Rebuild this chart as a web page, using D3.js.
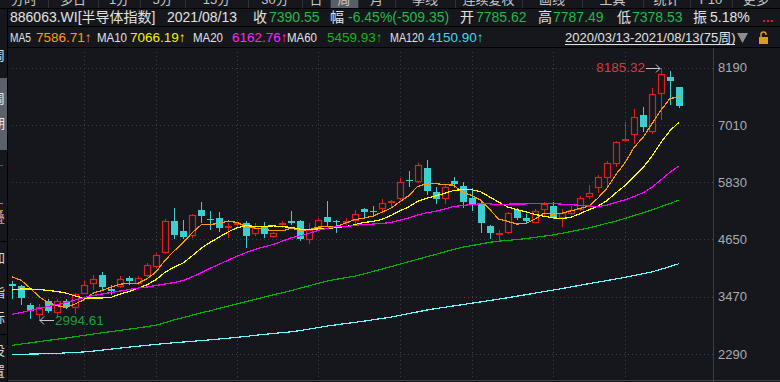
<!DOCTYPE html>
<html><head><meta charset="utf-8">
<script src="https://cdn.jsdelivr.net/npm/d3@7"></script>
<style>
html,body{margin:0;padding:0;background:#15171c;overflow:hidden;}
svg{display:block;}
text{font-family:"Liberation Sans","Noto Sans CJK SC",sans-serif;}
</style></head><body>
<svg id="c" width="780" height="382"></svg>
<script>
// ---- data (weekly, 2020/03/13 - 2021/08/13, 75 weeks) ----
const open  = [3733,3692,3300,3114,3382,3156,3382,3259,3547,3753,3918,3629,3691,3856,3753,3918,4103,4392,5031,4825,4743,5258,5072,5093,4907,4969,4990,4784,4928,4722,4949,5031,5031,4660,4887,5114,5031,4990,5052,5278,5237,5299,5423,5505,5876,5855,6123,5629,5505,5855,5752,5505,5402,4928,4763,4805,5258,5093,5010,5278,5340,5114,5196,5278,5546,5732,5938,6226,6680,6824,7216,6886,7669,8000,7785.62];
const high  = [3794,3712,3341,3320,3424,3424,3424,3547,3794,3918,3980,3712,3897,3897,3897,4165,4372,5072,5299,5052,5175,5423,5237,5217,4990,5010,5031,4990,5010,4805,5031,5237,5052,4990,5093,5443,5052,5093,5258,5299,5340,5485,5464,5917,6061,6226,6288,5732,5773,5938,5835,5711,5423,4949,4846,5217,5299,5175,5278,5423,5423,5278,5340,5546,5773,5979,6268,6680,7071,7339,7380,7772,8185.32,8123,7787.49];
const low   = [3444,3320,3032,2994.61,3156,3053,3238,3135,3547,3629,3629,3527,3671,3733,3733,3897,4090,4372,4681,4681,4701,5010,4866,4825,4701,4928,4495,4743,4701,4701,4907,4969,4640,4578,4866,4949,4804,4969,4969,5114,5134,5217,5320,5485,5752,5835,5588,5402,5402,5732,5320,5258,4805,4681,4640,4784,5072,5010,5010,5155,5093,4928,5175,5258,5505,5629,5752,6164,6670,6639,6886,6845,7134,7442,7378.53];
const close = [3692,3444,3176,3259,3176,3382,3259,3527,3712,3836,3671,3588,3836,3794,3856,4124,4330,5031,4743,4701,5155,5134,5052,4887,4928,4990,4722,4887,4763,4784,4990,4990,4660,4846,5052,5010,5010,5031,5175,5217,5217,5402,5443,5835,5855,6185,5649,5485,5732,5794,5423,5361,4990,4784,4784,5196,5093,5031,5237,5381,5114,5196,5258,5505,5608,5938,6226,6659,6721,7174,6968,7649,8061,7917,7390.55];
const ma5   = [3880,3810,3650,3470,3349,3287,3250,3321,3411,3543,3601,3667,3729,3745,3749,3840,3988,4227,4417,4586,4792,4953,4957,4986,5031,4998,4916,4883,4858,4829,4829,4883,4837,4854,4908,4912,4916,4990,5056,5089,5130,5208,5291,5423,5550,5744,5793,5802,5781,5769,5617,5559,5460,5270,5068,5023,4969,4978,5068,5188,5171,5192,5237,5291,5336,5501,5707,5987,6230,6544,6750,7034,7315,7554,7586.71];
const ma10  = [3609,3630,3630,3619,3599,3578,3547,3485,3444,3446,3444,3459,3525,3578,3646,3720,3827,3978,4081,4167,4316,4470,4592,4701,4809,4895,4934,4920,4922,4930,4914,4899,4860,4856,4868,4870,4899,4914,4955,4998,5021,5062,5140,5239,5320,5437,5501,5546,5602,5660,5680,5676,5631,5526,5419,5320,5264,5219,5169,5128,5097,5081,5107,5180,5262,5336,5449,5612,5761,5940,6125,6371,6651,6892,7066.19];
const ma20  = [3108,3145,3187,3228,3269,3310,3351,3403,3454,3496,3527,3558,3588,3619,3650,3671,3702,3733,3764,3807,3880,3965,4058,4140,4227,4308,4381,4449,4501,4549,4615,4685,4726,4779,4838,4883,4917,4917,4938,4964,4967,4981,5000,5048,5094,5154,5200,5230,5278,5329,5351,5369,5386,5383,5369,5378,5383,5383,5386,5394,5389,5378,5369,5353,5340,5328,5357,5416,5465,5534,5611,5726,5879,6036,6162.76];
const ma60  = [2469,2494,2519,2546,2570,2595,2620,2647,2675,2700,2727,2752,2778,2803,2828,2857,2886,2937,2995,3042,3090,3137,3182,3230,3277,3325,3370,3417,3465,3510,3553,3599,3648,3698,3747,3795,3830,3863,3895,3937,3988,4038,4089,4141,4190,4242,4293,4343,4394,4444,4491,4524,4557,4592,4615,4631,4648,4668,4693,4718,4743,4778,4815,4852,4889,4936,4984,5029,5083,5142,5200,5260,5326,5392,5459.93];
const ma120 = [2284,2286,2288,2292,2296,2304,2313,2323,2333,2350,2370,2391,2412,2432,2451,2469,2488,2506,2523,2537,2552,2566,2583,2599,2616,2634,2653,2675,2694,2713,2731,2748,2774,2805,2836,2867,2892,2917,2941,2966,2993,3022,3048,3086,3123,3158,3195,3226,3252,3281,3308,3337,3364,3393,3421,3450,3481,3512,3543,3576,3607,3638,3671,3706,3739,3772,3803,3836,3869,3908,3945,3982,4036,4093,4150.90];
const yTicks = [2290,3470,4650,5830,7010,8190];
const gridWeeks = [8,16,25,34,43,51,60,68];
const maNames = ["MA5","MA10","MA20","MA60","MA120"];
const maColors = ["#ff9a10","#ffff00","#ff00ff","#00b400","#66ffff"];
const maLabelColors = ["#ff9a1e","#f2f200","#ff22ff","#12b812","#40d8e8"];
const tabs = ["分时","多日","1分","5分","15分","30分","日","周","月","季线","连续复权","画线","工具","统计","F10","更多"];
const tabEdges = [0,48,98,140,185,248,302,330,358,395,455,522,582,643,690,732,780];

// ---- layout ----
const W=780,H=382, L=8, R=713, T=48, B=380;
const BG="#15171c", RED="#e01e1e", CYAN="#3ccfcf", GRID="#3d4047";
const svg=d3.select("#c");
svg.append("rect").attr("width",W).attr("height",H).attr("fill",BG);

const n=close.length;
const x=d3.scalePoint().domain(d3.range(n)).range([12,679]);
const y=d3.scaleLinear().domain([2290,8190]).range([354,67.7]);

// top tab strip (cut off)
const tg=svg.append("g");
tg.append("rect").attr("x",tabEdges[7]).attr("y",0).attr("width",tabEdges[8]-tabEdges[7]).attr("height",8).attr("fill","#5a5e68");
tabs.forEach((t,i)=>{
  tg.append("text").attr("x",(tabEdges[i]+tabEdges[i+1])/2).attr("y",4).attr("text-anchor","middle")
    .attr("font-size",13).attr("fill","#c8c8c8").text(t);
  if(i>0) tg.append("line").attr("x1",tabEdges[i]+0.5).attr("x2",tabEdges[i]+0.5).attr("y1",0).attr("y2",8).attr("stroke","#2e3036");
});
svg.append("line").attr("x1",0).attr("x2",W).attr("y1",8.5).attr("y2",8.5).attr("stroke","#000");

// left tool strip (cut off)
const lg=svg.append("g");
lg.append("rect").attr("x",0).attr("y",78).attr("width",7).attr("height",72).attr("fill","#5c606a");
[["周",60,"#cfe0ff"],["周",103,"#e6e6e6"],["期",128,"#e6e6e6"],["叠",222,"#d0a0a0"],["加",262,"#d8d8d8"],["指",297,"#d8d8d8"],["标",322,"#d8d8d8"],["设",355,"#d8d8d8"],["置",376,"#d8d8d8"]].forEach(d=>{
  lg.append("text").attr("x",-8).attr("y",d[1]).attr("font-size",13).attr("fill",d[2]).text(d[0]);
});
lg.append("rect").attr("x",0).attr("y",165).attr("width",3).attr("height",1).attr("fill","#c03030");
lg.append("rect").attr("x",0).attr("y",203).attr("width",3).attr("height",1).attr("fill","#d08020");
lg.append("rect").attr("x",0).attr("y",210).attr("width",3).attr("height",1).attr("fill","#d08020");
[241,334].forEach(v=>lg.append("line").attr("x1",0).attr("x2",7).attr("y1",v+0.5).attr("y2",v+0.5).attr("stroke","#000"));
svg.append("line").attr("x1",7.5).attr("x2",7.5).attr("y1",8).attr("y2",H).attr("stroke","#000");

// header row 1
const h1=svg.append("g").attr("font-size",14);
const row1=[["886063.WI[半导体指数]",10,"#e2e2e2"],["2021/08/13",167,"#e2e2e2"],["收",253,"#e2e2e2"],[d3.format(".2f")(close[n-1]),269,"#22b84a"],
  ["幅",330,"#e2e2e2"],["-6.45%(-509.35)",348,"#22b84a"],["开",460,"#e2e2e2"],[d3.format(".2f")(open[n-1]),476,"#22b84a"],
  ["高",538,"#e2e2e2"],[d3.format(".2f")(high[n-1]),553,"#22b84a"],["低",617,"#e2e2e2"],[d3.format(".2f")(low[n-1]),632,"#22b84a"],
  ["振",693,"#e2e2e2"],["5.18%",710,"#e2e2e2"]];
row1.forEach(d=>h1.append("text").attr("x",d[1]).attr("y",22).attr("fill",d[2]).text(d[0]));
[763,767,771].forEach(v=>svg.append("rect").attr("x",v).attr("y",20).attr("width",2).attr("height",2).attr("fill","#e02020"));

// header row 2 (MA legend)
svg.append("line").attr("x1",8).attr("x2",W).attr("y1",26.5).attr("y2",26.5).attr("stroke","#000");
const h2=svg.append("g").attr("font-size",13.5);
const lastMA=[ma5,ma10,ma20,ma60,ma120].map(a=>a[a.length-1]);
const labX=[10,97,193,287,390], labW=[21,30,30,30,34], valX=[36,130,232,327,428];
maNames.forEach((m,i)=>{
  h2.append("text").attr("x",labX[i]).attr("y",42).attr("fill","#e2e2e2").attr("font-size",12)
    .attr("textLength",labW[i]).attr("lengthAdjust","spacingAndGlyphs").text(m);
  h2.append("text").attr("x",valX[i]).attr("y",42).attr("fill",maLabelColors[i]).text(d3.format(".2f")(lastMA[i])+"↑");
});
h2.append("text").attr("x",565).attr("y",42).attr("fill","#e2e2e2").attr("font-size",13).text("2020/03/13-2021/08/13(75周)");
svg.append("line").attr("x1",565).attr("x2",735).attr("y1",44.5).attr("y2",44.5).attr("stroke","#e2e2e2");
svg.append("path").attr("d","M737,33 L748,33 L742.5,43 Z").attr("fill","#8c8f96");
svg.append("rect").attr("x",759).attr("y",37).attr("width",9).attr("height",7).attr("fill","#d99a1e");
svg.append("path").attr("d","M761,37 V34.5 A2.5,2.5 0 0 1 766,34.5 V35").attr("fill","none").attr("stroke","#d99a1e").attr("stroke-width",1.5);
svg.append("line").attr("x1",8).attr("x2",W).attr("y1",47.5).attr("y2",47.5).attr("stroke","#000");

// plot area clip
svg.append("clipPath").attr("id","pc").append("rect").attr("x",L+1).attr("y",T+1).attr("width",R-L-1).attr("height",B-T-1);
const pg=svg.append("g").attr("clip-path","url(#pc)");

// grid
pg.selectAll(".hg").data(yTicks).join("line").attr("x1",L).attr("x2",R)
  .attr("y1",d=>Math.round(y(d))+0.5).attr("y2",d=>Math.round(y(d))+0.5)
  .attr("stroke",GRID).attr("stroke-dasharray","1,3");
pg.selectAll(".vg").data(gridWeeks).join("line").attr("y1",T).attr("y2",B)
  .attr("x1",d=>Math.round(x(d))+0.5).attr("x2",d=>Math.round(x(d))+0.5)
  .attr("stroke",GRID).attr("stroke-dasharray","1,3");

// candles
const cg=pg.append("g");
d3.range(n).forEach(i=>{
  const cx=Math.round(x(i));
  const up=close[i]>=open[i];
  const col=up?RED:CYAN;
  cg.append("line").attr("x1",cx+0.5).attr("x2",cx+0.5).attr("y1",Math.round(y(high[i]))).attr("y2",Math.round(y(low[i]))+1)
    .attr("stroke",col).attr("stroke-width",1);
  const yo=Math.round(y(open[i])), yc=Math.round(y(close[i]));
  if(up){
    const hgt=yo-yc;
    if(hgt<=2){
      cg.append("rect").attr("x",cx-3).attr("y",yc).attr("width",7).attr("height",Math.max(2,hgt)).attr("fill",RED);
    } else {
      cg.append("rect").attr("x",cx-2.5).attr("y",yc+0.5).attr("width",6).attr("height",hgt)
        .attr("fill",BG).attr("stroke",RED).attr("stroke-width",1.2);
    }
  } else {
    cg.append("rect").attr("x",cx-3).attr("y",yo).attr("width",7).attr("height",Math.max(1,yc-yo)).attr("fill",CYAN);
  }
});

// MA lines
const line=d3.line().x((d,i)=>x(i)).y(d=>y(d));
[ma5,ma10,ma20,ma60,ma120].forEach((a,k)=>{
  pg.append("path").datum(a).attr("d",line).attr("fill","none").attr("stroke",maColors[k])
    .attr("stroke-width",1.2).attr("shape-rendering","crispEdges");
});

// annotations: max / min
const iMax=d3.maxIndex(high), iMin=d3.minIndex(low);
const ax=x(iMax), ay=y(high[iMax]);
svg.append("text").attr("x",ax-16).attr("y",ay+4.5).attr("text-anchor","end").attr("font-size",13.5).attr("fill","#d83a3a")
  .text(d3.format(".2f")(high[iMax]));
svg.append("path").attr("d",`M${ax-15},${Math.round(ay)+0.5} H${ax-1} M${ax-5},${Math.round(ay)-3.5} L${ax-1},${Math.round(ay)+0.5} L${ax-5},${Math.round(ay)+4.5}`)
  .attr("fill","none").attr("stroke","#c8c8c8");
const bx=x(iMin), by=y(low[iMin]);
svg.append("path").attr("d",`M${bx+1},${Math.round(by)+0.5} H${bx+15} M${bx+5},${Math.round(by)-3.5} L${bx+1},${Math.round(by)+0.5} L${bx+5},${Math.round(by)+4.5}`)
  .attr("fill","none").attr("stroke","#c8c8c8");
svg.append("text").attr("x",bx+16).attr("y",by+5).attr("font-size",13.5).attr("fill","#1ea03c").text(d3.format(".2f")(low[iMin]));

// right axis
svg.append("line").attr("x1",R+0.5).attr("x2",R+0.5).attr("y1",T).attr("y2",H).attr("stroke","#3a3d44");
const ag=svg.append("g").attr("transform",`translate(${R},0)`)
  .call(d3.axisRight(y).tickValues(yTicks).tickSize(0).tickPadding(5).tickFormat(d3.format("d")));
ag.select(".domain").remove();
ag.selectAll("text").attr("fill","#a9abb0").attr("font-size",13).attr("font-family","Liberation Sans, sans-serif");
svg.append("line").attr("x1",L).attr("x2",W).attr("y1",B+0.5).attr("y2",B+0.5).attr("stroke","#3a3d44");
</script>
</body></html>
